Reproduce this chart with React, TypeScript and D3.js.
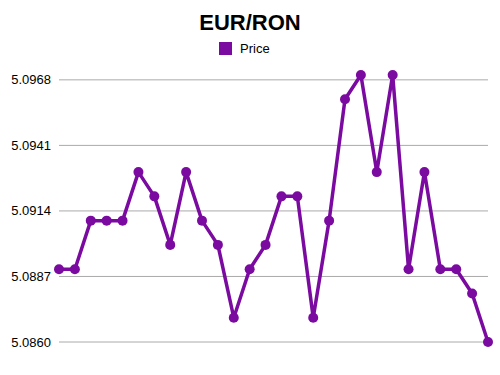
import React from 'react';
import { scaleLinear, scalePoint, line } from 'd3';

const categories: string[] = Array.from({ length: 28 }, (_, i) => `P${i + 1}`);
const prices: number[] = [
  5.0890, 5.0890, 5.0910, 5.0910, 5.0910, 5.0930, 5.0920, 5.0900, 5.0930, 5.0910,
  5.0900, 5.0870, 5.0890, 5.0900, 5.0920, 5.0920, 5.0870, 5.0910, 5.0960, 5.0970,
  5.0930, 5.0970, 5.0890, 5.0930, 5.0890, 5.0890, 5.0880, 5.0860,
];
const tickValues: number[] = [5.086, 5.0887, 5.0914, 5.0941, 5.0968];
const title = 'EUR/RON';
const seriesName = 'Price';

const W = 500;
const H = 375;
const color = '#7a0aa0';

function App() {
  const x = scalePoint<string>().domain(categories).range([59, 488]);
  const y = scaleLinear().domain([5.086, 5.097]).range([342, 75]);
  const path = line<number>()
    .x((_, i) => x(categories[i])!)
    .y(d => y(d));

  return (
    <svg
      width={W}
      height={H}
      style={{ position: 'absolute', left: 0, top: 0, fontFamily: 'Liberation Sans, Arial, sans-serif' }}
    >
      <rect width={W} height={H} fill="#fff" />
      <text x={250} y={30} textAnchor="middle" fontSize={22} fontWeight="bold" fill="#000">
        {title}
      </text>
      <rect x={219} y={42} width={13} height={13} fill={color} />
      <text x={240} y={53} fontSize={13} fill="#000">{seriesName}</text>
      {tickValues.map(t => (
        <g key={t}>
          <line x1={59} x2={488} y1={y(t)} y2={y(t)} stroke="#aaa" strokeWidth={1} />
          <text x={51} y={y(t)} dy="0.35em" textAnchor="end" fontSize={13} fill="#000">
            {t.toFixed(4)}
          </text>
        </g>
      ))}
      <path d={path(prices) ?? ''} fill="none" stroke={color} strokeWidth={3.5} strokeLinejoin="round" />
      {prices.map((p, i) => (
        <circle key={i} cx={x(categories[i])} cy={y(p)} r={5} fill={color} />
      ))}
    </svg>
  );
}

export default App;
